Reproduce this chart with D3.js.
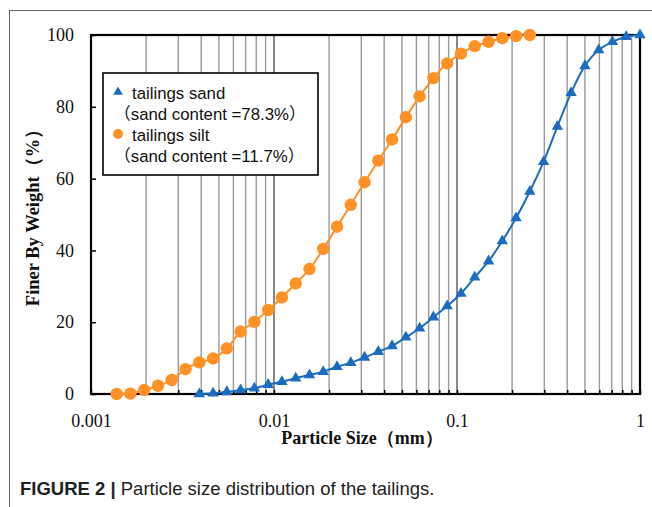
<!DOCTYPE html>
<html><head><meta charset="utf-8">
<script src="https://cdn.jsdelivr.net/npm/d3@7/dist/d3.min.js"></script>
<style>
html,body{margin:0;padding:0;background:#fff;}
svg{display:block;}
</style></head>
<body>
<svg id="chart" width="652" height="507"></svg>
<script>
// ---- data ----
const sandSize = [0.003906,0.004645,0.005524,0.00657,0.007813,0.009291,0.01105,0.01314,0.01563,0.01858,0.0221,0.02628,0.03125,0.03716,0.04419,0.05256,0.0625,0.07433,0.08839,0.1051,0.125,0.1487,0.1768,0.2102,0.25,0.2973,0.3536,0.4204,0.5,0.5946,0.7071,0.8409,1.0];
const sandPct  = [0,0.2,0.6,1.1,1.6,2.6,3.4,4.4,5.3,6.2,7.6,8.7,10.2,11.8,13.4,15.8,18.3,21.4,24.5,28.0,32.5,37.0,42.6,49.0,56.4,64.7,74.5,83.9,91.4,95.8,98.1,99.5,100];
const siltSize = [0.001381,0.001642,0.001953,0.002323,0.002762,0.003285,0.003906,0.004645,0.005524,0.00657,0.007813,0.009291,0.01105,0.01314,0.01563,0.01858,0.0221,0.02628,0.03125,0.03716,0.04419,0.05256,0.0625,0.07433,0.08839,0.1051,0.125,0.1487,0.1768,0.2102,0.25];
const siltPct  = [0,0.1,1.1,2.3,3.9,6.9,8.8,9.9,12.7,17.4,20.1,23.4,26.9,30.8,34.8,40.4,46.6,52.7,59.0,65.0,70.9,77.1,82.9,88.0,92.1,94.8,96.9,98.1,99.1,99.7,100];
const xTickLabels = ["0.001","0.01","0.1","1"];
const yTicks = [0,20,40,60,80,100];
const seriesNames = ["tailings sand","tailings silt"];
const seriesNotes = ["（sand content =78.3%）","（sand content =11.7%）"];

// ---- layout ----
const L = 91, R = 640, T = 35, B = 394;
const blue = "#1c6dbf", orange = "#ff9126";
const svg = d3.select("#chart");

// outer figure frame
svg.append("line").attr("x1",9.5).attr("x2",9.5).attr("y1",10).attr("y2",507).attr("stroke","#666").attr("stroke-width",1);
svg.append("line").attr("x1",9).attr("x2",652).attr("y1",10.5).attr("y2",10.5).attr("stroke","#666").attr("stroke-width",1);

const x = d3.scaleLog().domain([0.001,1]).range([L,R]);
const y = d3.scaleLinear().domain([0,100]).range([B,T]);

const allTicks = x.ticks();
const isMajor = v => Math.abs(Math.log10(v) - Math.round(Math.log10(v))) < 1e-9;

// vertical gridlines
svg.append("g").selectAll("line").data(allTicks.filter(v => v > 0.001 && v < 1)).join("line")
  .attr("x1", d => x(d)).attr("x2", d => x(d)).attr("y1", T).attr("y2", B)
  .attr("stroke", d => isMajor(d) ? "#555" : "#9a9a9a").attr("stroke-width", 1.4);

// x axis
const xAxis = d3.axisBottom(x).tickValues(allTicks).tickSize(-4).tickPadding(0)
  .tickFormat(d => isMajor(d) ? xTickLabels[Math.round(Math.log10(d)) + 3] : "");
const gx = svg.append("g").attr("transform", `translate(0,${B})`).call(xAxis);
gx.select(".domain").remove();
gx.selectAll(".tick line").attr("stroke","#000").attr("stroke-width",1.5);
gx.selectAll(".tick text").attr("y", 20).attr("font-family","'Liberation Serif', 'Times New Roman', serif")
  .attr("font-size", 18).attr("fill","#111");

// y axis
const yAxis = d3.axisLeft(y).tickValues(yTicks).tickSize(-5).tickPadding(17);
const gy = svg.append("g").attr("transform", `translate(${L},0)`).call(yAxis);
gy.select(".domain").remove();
gy.selectAll(".tick line").attr("stroke","#000").attr("stroke-width",1.5);
gy.selectAll(".tick text").attr("font-family","'Liberation Serif', 'Times New Roman', serif")
  .attr("font-size", 18).attr("fill","#111");

// plot frame
svg.append("rect").attr("x", L).attr("y", T).attr("width", R - L).attr("height", B - T)
  .attr("fill","none").attr("stroke","#000").attr("stroke-width",2.2);

// axis titles
svg.append("text").attr("x", 362).attr("y", 444).attr("text-anchor","middle")
  .attr("font-family","'Liberation Serif', 'Times New Roman', serif").attr("font-weight","bold")
  .attr("font-size", 18).attr("fill","#111").text("Particle Size（mm）");
svg.append("text").attr("transform","translate(39,213) rotate(-90)").attr("text-anchor","middle")
  .attr("font-family","'Liberation Serif', 'Times New Roman', serif").attr("font-weight","bold")
  .attr("font-size", 18.5).attr("fill","#111").text("Finer By Weight（%）");

// series
const line = d3.line().x(d => x(d[0])).y(d => y(d[1])).curve(d3.curveCatmullRom.alpha(0.5));
const silt = siltSize.map((s,i) => [s, siltPct[i]]);
const sand = sandSize.map((s,i) => [s, sandPct[i]]);

svg.append("path").attr("d", line(silt)).attr("fill","none").attr("stroke",orange).attr("stroke-width",2);
svg.append("g").selectAll("circle").data(silt).join("circle")
  .attr("cx", d => x(d[0])).attr("cy", d => y(d[1])).attr("r", 6.2).attr("fill", orange);

svg.append("path").attr("d", line(sand)).attr("fill","none").attr("stroke",blue).attr("stroke-width",2);
const tri = d3.symbol().type(d3.symbolTriangle).size(56);
svg.append("g").selectAll("path").data(sand).join("path")
  .attr("transform", d => `translate(${x(d[0])},${y(d[1])})`).attr("d", tri).attr("fill", blue);

// legend
const lg = svg.append("g");
lg.append("rect").attr("x", 103).attr("y", 73).attr("width", 215).attr("height", 102)
  .attr("fill","#fff").attr("stroke","#000").attr("stroke-width",1.6);
lg.append("path").attr("transform","translate(118,92)").attr("d", d3.symbol().type(d3.symbolTriangle).size(40)).attr("fill", blue);
lg.append("circle").attr("cx",118).attr("cy",134).attr("r",5).attr("fill", orange);
const lf = "'Liberation Sans', Arial, 'Noto Sans CJK SC', sans-serif";
[[seriesNames[0],132,99],[seriesNotes[0],114,120],[seriesNames[1],132,141],[seriesNotes[1],114,162]].forEach(([t,tx,ty]) => {
  lg.append("text").attr("x",tx).attr("y",ty).attr("font-family",lf).attr("font-size",16.8).attr("fill","#111").text(t);
});

// caption
const cap = svg.append("text").attr("x", 20).attr("y", 495).attr("font-family","'Liberation Sans', Arial, sans-serif")
  .attr("font-size", 18.5).attr("fill","#222");
cap.append("tspan").attr("font-weight","bold").text("FIGURE 2 | ");
cap.append("tspan").text("Particle size distribution of the tailings.");
</script>
</body></html>
